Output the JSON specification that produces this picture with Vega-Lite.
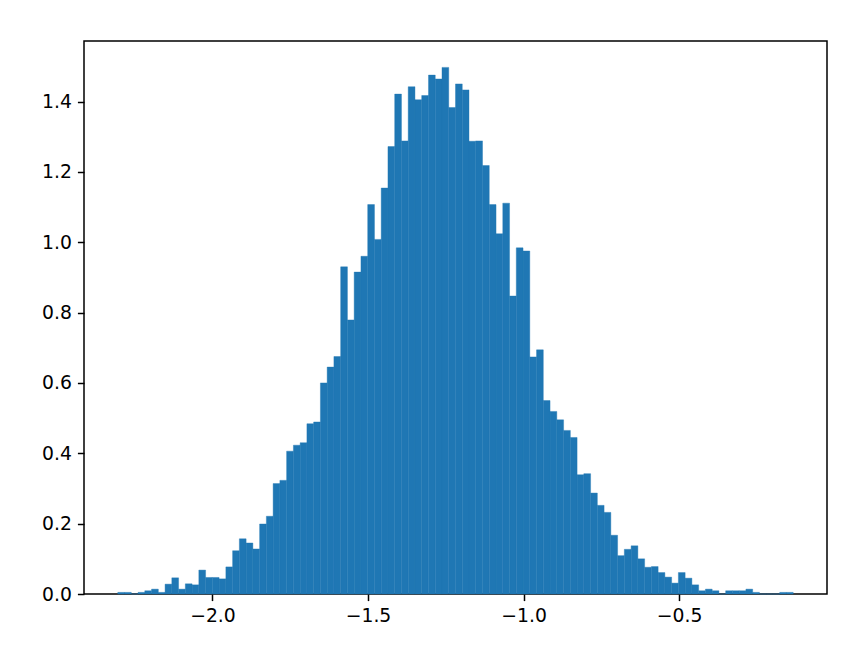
{
  "$schema": "https://vega.github.io/schema/vega-lite/v6.json",
  "width": 743,
  "height": 553,
  "autosize": {"type": "none"},
  "padding": {"left": 84, "top": 41, "right": 41, "bottom": 54},
  "background": "white",
  "config": {
    "view": {"stroke": "#000000", "strokeWidth": 1.5},
    "axis": {
      "labelFont": "DejaVu Sans",
      "labelFontSize": 18.8,
      "labelColor": "#000000",
      "tickColor": "#000000",
      "tickSize": 6.6,
      "tickWidth": 1.5,
      "labelPadding": 6,
      "domain": false,
      "grid": false,
      "title": null
    }
  },
  "data": {
    "values": [
      {"x0": -2.3043, "x1": -2.2826, "d": 0.0046},
      {"x0": -2.2826, "x1": -2.2609, "d": 0.0046},
      {"x0": -2.2609, "x1": -2.2392, "d": 0},
      {"x0": -2.2392, "x1": -2.2175, "d": 0.0046},
      {"x0": -2.2175, "x1": -2.1958, "d": 0.0092},
      {"x0": -2.1958, "x1": -2.1740, "d": 0.0138},
      {"x0": -2.1740, "x1": -2.1523, "d": 0.0046},
      {"x0": -2.1523, "x1": -2.1306, "d": 0.028},
      {"x0": -2.1306, "x1": -2.1089, "d": 0.046},
      {"x0": -2.1089, "x1": -2.0872, "d": 0.0138},
      {"x0": -2.0872, "x1": -2.0655, "d": 0.029},
      {"x0": -2.0655, "x1": -2.0438, "d": 0.026},
      {"x0": -2.0438, "x1": -2.0221, "d": 0.068},
      {"x0": -2.0221, "x1": -2.0004, "d": 0.047},
      {"x0": -2.0004, "x1": -1.9787, "d": 0.047},
      {"x0": -1.9787, "x1": -1.9569, "d": 0.043},
      {"x0": -1.9569, "x1": -1.9352, "d": 0.077},
      {"x0": -1.9352, "x1": -1.9135, "d": 0.123},
      {"x0": -1.9135, "x1": -1.8918, "d": 0.157},
      {"x0": -1.8918, "x1": -1.8701, "d": 0.145},
      {"x0": -1.8701, "x1": -1.8484, "d": 0.128},
      {"x0": -1.8484, "x1": -1.8267, "d": 0.199},
      {"x0": -1.8267, "x1": -1.8050, "d": 0.221},
      {"x0": -1.8050, "x1": -1.7833, "d": 0.314},
      {"x0": -1.7833, "x1": -1.7616, "d": 0.323},
      {"x0": -1.7616, "x1": -1.7398, "d": 0.406},
      {"x0": -1.7398, "x1": -1.7181, "d": 0.423},
      {"x0": -1.7181, "x1": -1.6964, "d": 0.430},
      {"x0": -1.6964, "x1": -1.6747, "d": 0.484},
      {"x0": -1.6747, "x1": -1.6530, "d": 0.489},
      {"x0": -1.6530, "x1": -1.6313, "d": 0.600},
      {"x0": -1.6313, "x1": -1.6096, "d": 0.645},
      {"x0": -1.6096, "x1": -1.5879, "d": 0.675},
      {"x0": -1.5879, "x1": -1.5662, "d": 0.930},
      {"x0": -1.5662, "x1": -1.5445, "d": 0.779},
      {"x0": -1.5445, "x1": -1.5227, "d": 0.915},
      {"x0": -1.5227, "x1": -1.5010, "d": 0.960},
      {"x0": -1.5010, "x1": -1.4793, "d": 1.107},
      {"x0": -1.4793, "x1": -1.4576, "d": 1.008},
      {"x0": -1.4576, "x1": -1.4359, "d": 1.154},
      {"x0": -1.4359, "x1": -1.4142, "d": 1.272},
      {"x0": -1.4142, "x1": -1.3925, "d": 1.421},
      {"x0": -1.3925, "x1": -1.3708, "d": 1.288},
      {"x0": -1.3708, "x1": -1.3491, "d": 1.442},
      {"x0": -1.3491, "x1": -1.3274, "d": 1.405},
      {"x0": -1.3274, "x1": -1.3056, "d": 1.417},
      {"x0": -1.3056, "x1": -1.2839, "d": 1.475},
      {"x0": -1.2839, "x1": -1.2622, "d": 1.464},
      {"x0": -1.2622, "x1": -1.2405, "d": 1.497},
      {"x0": -1.2405, "x1": -1.2188, "d": 1.383},
      {"x0": -1.2188, "x1": -1.1971, "d": 1.450},
      {"x0": -1.1971, "x1": -1.1754, "d": 1.433},
      {"x0": -1.1754, "x1": -1.1537, "d": 1.287},
      {"x0": -1.1537, "x1": -1.1320, "d": 1.288},
      {"x0": -1.1320, "x1": -1.1103, "d": 1.218},
      {"x0": -1.1103, "x1": -1.0885, "d": 1.107},
      {"x0": -1.0885, "x1": -1.0668, "d": 1.024},
      {"x0": -1.0668, "x1": -1.0451, "d": 1.111},
      {"x0": -1.0451, "x1": -1.0234, "d": 0.847},
      {"x0": -1.0234, "x1": -1.0017, "d": 0.984},
      {"x0": -1.0017, "x1": -0.9800, "d": 0.975},
      {"x0": -0.9800, "x1": -0.9583, "d": 0.674},
      {"x0": -0.9583, "x1": -0.9366, "d": 0.694},
      {"x0": -0.9366, "x1": -0.9149, "d": 0.550},
      {"x0": -0.9149, "x1": -0.8932, "d": 0.519},
      {"x0": -0.8932, "x1": -0.8714, "d": 0.495},
      {"x0": -0.8714, "x1": -0.8497, "d": 0.465},
      {"x0": -0.8497, "x1": -0.8280, "d": 0.445},
      {"x0": -0.8280, "x1": -0.8063, "d": 0.339},
      {"x0": -0.8063, "x1": -0.7846, "d": 0.342},
      {"x0": -0.7846, "x1": -0.7629, "d": 0.287},
      {"x0": -0.7629, "x1": -0.7412, "d": 0.252},
      {"x0": -0.7412, "x1": -0.7195, "d": 0.232},
      {"x0": -0.7195, "x1": -0.6978, "d": 0.167},
      {"x0": -0.6978, "x1": -0.6761, "d": 0.109},
      {"x0": -0.6761, "x1": -0.6543, "d": 0.127},
      {"x0": -0.6543, "x1": -0.6326, "d": 0.137},
      {"x0": -0.6326, "x1": -0.6109, "d": 0.100},
      {"x0": -0.6109, "x1": -0.5892, "d": 0.076},
      {"x0": -0.5892, "x1": -0.5675, "d": 0.078},
      {"x0": -0.5675, "x1": -0.5458, "d": 0.061},
      {"x0": -0.5458, "x1": -0.5241, "d": 0.048},
      {"x0": -0.5241, "x1": -0.5024, "d": 0.031},
      {"x0": -0.5024, "x1": -0.4807, "d": 0.061},
      {"x0": -0.4807, "x1": -0.4590, "d": 0.045},
      {"x0": -0.4590, "x1": -0.4372, "d": 0.026},
      {"x0": -0.4372, "x1": -0.4155, "d": 0.0092},
      {"x0": -0.4155, "x1": -0.3938, "d": 0.0138},
      {"x0": -0.3938, "x1": -0.3721, "d": 0.0092},
      {"x0": -0.3721, "x1": -0.3504, "d": 0},
      {"x0": -0.3504, "x1": -0.3287, "d": 0.0092},
      {"x0": -0.3287, "x1": -0.3070, "d": 0.0092},
      {"x0": -0.3070, "x1": -0.2853, "d": 0.0092},
      {"x0": -0.2853, "x1": -0.2636, "d": 0.0138},
      {"x0": -0.2636, "x1": -0.2419, "d": 0.0046},
      {"x0": -0.2419, "x1": -0.2201, "d": 0},
      {"x0": -0.2201, "x1": -0.1984, "d": 0},
      {"x0": -0.1984, "x1": -0.1767, "d": 0},
      {"x0": -0.1767, "x1": -0.1550, "d": 0.0046},
      {"x0": -0.1550, "x1": -0.1333, "d": 0.0046}
    ]
  },
  "mark": {"type": "rect", "fill": "#1f77b4", "stroke": "#1f77b4", "strokeWidth": 0.4},
  "encoding": {
    "x": {
      "field": "x0",
      "type": "quantitative",
      "scale": {"domain": [-2.4129, -0.0247], "nice": false, "zero": false},
      "axis": {"values": [-2.0, -1.5, -1.0, -0.5], "format": ".1f"}
    },
    "x2": {"field": "x1"},
    "y": {
      "field": "d",
      "type": "quantitative",
      "scale": {"domain": [0, 1.572], "nice": false, "zero": true},
      "axis": {"values": [0, 0.2, 0.4, 0.6, 0.8, 1.0, 1.2, 1.4], "format": ".1f"}
    },
    "y2": {"datum": 0}
  }
}
